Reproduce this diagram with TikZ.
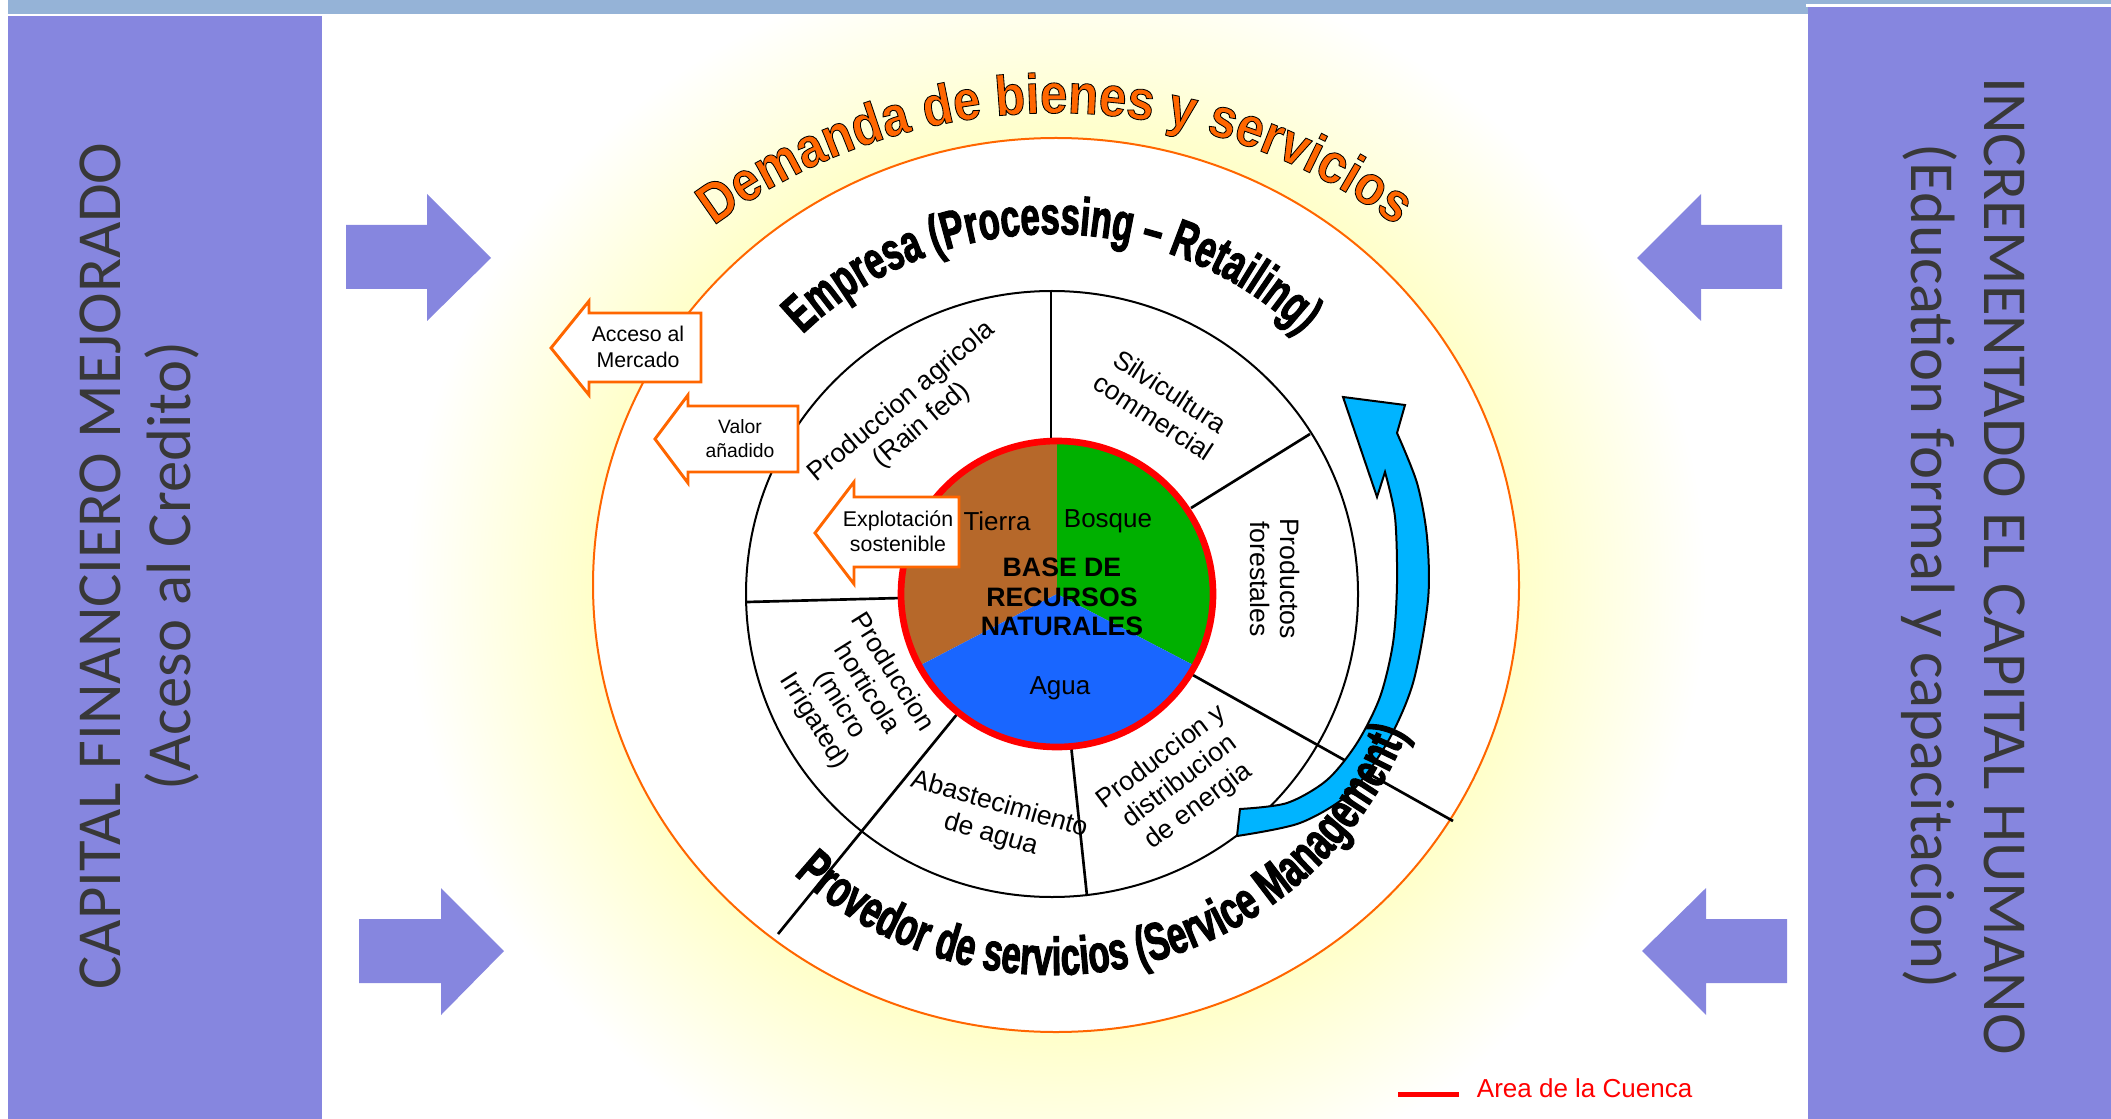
\documentclass[tikz,border=0pt]{standalone}
\usepackage{fontspec}
\setmainfont{Liberation Sans}
\newfontfamily\panelfont{Carlito}
\newfontfamily\demfont[FakeStretch=0.88, BoldFeatures={FakeBold=1.5}]{Liberation Sans}
\newfontfamily\wordartfont[FakeStretch=0.65, BoldFeatures={FakeBold=2}]{Liberation Sans}
\usetikzlibrary{decorations.text}

\definecolor{bandblue}{RGB}{149,179,215}
\definecolor{panelviolet}{RGB}{134,134,223}
\definecolor{demorange}{RGB}{255,102,0}
\definecolor{tierrabrown}{RGB}{182,104,42}
\definecolor{bosquegreen}{RGB}{0,176,0}
\definecolor{aguablue}{RGB}{25,102,255}
\definecolor{cyclecyan}{RGB}{0,180,255}
\definecolor{glowyellow}{RGB}{255,255,196}

\pgfdeclareradialshading{demandglow}{\pgfpointorigin}{color(0bp)=(glowyellow); color(17bp)=(glowyellow); color(25bp)=(white); color(50bp)=(white)}

\tikzset{every picture/.style={line width=0.75pt}}
\tikzset{
  seglabel/.style={align=center, font=\fontsize{20}{23}\selectfont},
  baselabel/.style={font=\fontsize{19.5}{22}\selectfont},
  panellabel/.style={font=\panelfont\fontsize{47}{50}\selectfont, text=black!78},
  bigarrow/.style={fill=panelviolet, draw=none},
  outarrow/.style={draw=demorange, line width=2.2pt, fill=white},
  outlabel/.style={align=center, font=\fontsize{16}{19}\selectfont},
  divider/.style={line width=2pt},
}

\begin{document}
\begin{tikzpicture}[x=0.75pt,y=0.75pt,yscale=-1,xscale=1]
\useasboundingbox (0,0) rectangle (2111,1119);

%Shape: Glow behind the demand ring
\shade[shading=demandglow] (1056,585) ellipse [x radius=650, y radius=630];

%Shape: Top band and side panels
\fill[bandblue] (8,0) rectangle (2111,14);
\fill[panelviolet] (8,16) rectangle (322,1119);
\fill[white] (1806,4) rectangle (2111,7);
\fill[panelviolet] (1808,7) rectangle (2111,1119);

%Shape: Ellipse (demanda)
\draw[demorange, line width=1.5pt, fill=white] (1056,585) ellipse [x radius=463, y radius=447];

%Shape: Ellipse (sector ring)
\draw[line width=1.5pt, fill=white] (1052,594) ellipse [x radius=306, y radius=303];

%Straight Lines (sector dividers)
\draw[divider] (1051,440) -- (1051,291);
\draw[divider] (1191,508) -- (1310,434);
\draw[divider] (1191,674) -- (1453,821);
\draw[divider] (1071,745) -- (1087,896);
\draw[divider] (958,713) -- (778,934);
\draw[divider] (901,598) -- (747,602);

%Shape: Pie (base de recursos)
\fill[tierrabrown] (1057,594) -- ++(270:156 and 153) arc[start angle=270, end angle=152, x radius=156, y radius=153] -- cycle;
\fill[bosquegreen] (1057,594) -- ++(270:156 and 153) arc[start angle=270, end angle=388, x radius=156, y radius=153] -- cycle;
\fill[aguablue] (1057,594) -- ++(152:156 and 153) arc[start angle=152, end angle=28, x radius=156, y radius=153] -- cycle;
\draw[red, line width=5pt] (1057,594) ellipse [x radius=156, y radius=153];

% Text Node
\draw (997,521) node (tierra) [baselabel] {Tierra};
% Text Node
\draw (1108,521) node (bosque) [baselabel] {Bosque};
% Text Node
\draw (1060,688) node (agua) [baselabel] {Agua};
% Text Node
\draw (1062,597) node (base) [baselabel, align=center, font=\fontsize{20}{22}\selectfont\bfseries] {BASE DE\\RECURSOS\\NATURALES};

% Text Node
\draw (912,414) node (agricola) [seglabel, rotate=40] {Produccion agricola\\(Rain fed)};
% Text Node
\draw (1162,404) node (silvi) [seglabel, rotate=-33] {Silvicultura\\commercial};
% Text Node
\draw (1275,579) node (forest) [seglabel, rotate=-90] {Productos\\forestales};
% Text Node
\draw (1180,782) node (energia) [seglabel, rotate=37] {Produccion y\\distribucion\\de energia};
% Text Node
\draw (995,820) node (abaste) [seglabel, rotate=-16] {Abastecimiento\\de agua};
% Text Node
\draw (853,697) node (horti) [seglabel, rotate=-58] {Produccion\\horticola\\(micro\\Irrigated)};

%Shape: Left Arrow Callouts
\draw[outarrow] (701,313) -- (589,313) -- (589,301) -- (551,348) -- (589,395) -- (589,382) -- (701,382) -- cycle;
\draw[outarrow] (798,406) -- (688,406) -- (688,395) -- (655,439) -- (688,483) -- (688,472) -- (798,472) -- cycle;
\draw[outarrow] (959,497) -- (854,497) -- (854,482) -- (815,533) -- (854,584) -- (854,567) -- (959,567) -- cycle;

% Text Node
\draw (638,347) node (acceso) [outlabel] {Acceso al\\Mercado};
% Text Node
\draw (740,439) node (valor) [outlabel, font=\fontsize{14.5}{18}\selectfont] {Valor\\añadido};
% Text Node
\draw (898,531) node (explot) [outlabel] {Explotación\\sostenible};

%Shape: Curved Arrow (cycle)
\draw[fill=cyclecyan, line width=1.5pt, line join=miter]
  plot[smooth] coordinates {(1237,836) (1300,823) (1350,793) (1387,743) (1413,683) (1428,600) (1427,537) (1417,483) (1397,433)}
  -- (1405,405) -- (1343,397) -- (1377,497)
  -- plot[smooth] coordinates {(1385,472) (1395,517) (1397,583) (1393,643) (1380,697) (1357,743) (1327,780) (1287,803) (1240,809)}
  -- cycle;

%Curved Text
\path[decorate, decoration={text along path, text align=center,
  text={|\wordartfont\fontsize{40}{44}\selectfont\bfseries|Empresa (Processing – Retailing)}}]
  (1052,594) ++(222:360) arc[start angle=222, end angle=318, radius=360];
%Curved Text
\path[decorate, decoration={text along path, text align=center,
  text={|\wordartfont\fontsize{40}{44}\selectfont\bfseries|Provedor de servicios (Service Management)}}]
  (1052,594) ++(140:381) arc[start angle=140, end angle=14, radius=381];

%Shape: Block Arrows
\fill[bigarrow] (346,225) -- (427,225) -- (427,194) -- (491,258) -- (427,321) -- (427,289) -- (346,289) -- cycle;
\fill[bigarrow] (359,919) -- (441,919) -- (441,888) -- (504,951) -- (441,1015) -- (441,983) -- (359,983) -- cycle;
\fill[bigarrow] (1782,225) -- (1701,225) -- (1701,194) -- (1637,258) -- (1701,321) -- (1701,289) -- (1782,289) -- cycle;
\fill[bigarrow] (1787,919) -- (1706,919) -- (1706,888) -- (1642,951) -- (1706,1015) -- (1706,983) -- (1787,983) -- cycle;

% Text Node
\draw (100,566) node (capfin) [panellabel, rotate=90] {CAPITAL FINANCIERO MEJORADO};
% Text Node
\draw (172,566) node (credito) [panellabel, rotate=90] {(Aceso al Credito)};
% Text Node
\draw (2005,566) node (caphum) [panellabel, rotate=-90] {INCREMENTADO EL CAPITAL HUMANO};
% Text Node
\draw (1929,566) node (educ) [panellabel, rotate=-90] {(Education formal y capacitacion)};

%Legend
\draw[red, line width=3.75pt] (1398,1094) -- (1459,1094);
% Text Node
\draw (1472,1088) node (cuenca) [anchor=west, text=red, font=\fontsize{19.5}{22}\selectfont] {Area de la Cuenca};

%Curved Text (orange with black outline)
\path[decorate, decoration={text along path, text align=center,
  text={|\demfont\fontsize{42}{46}\selectfont\bfseries\color{demorange}\special{pdf:literal direct 0 0 0 RG}|Demanda de bienes y servicios}}]
  (1055,685) ++(230:572) arc[start angle=230, end angle=310, radius=572];

\end{tikzpicture}
\end{document}
